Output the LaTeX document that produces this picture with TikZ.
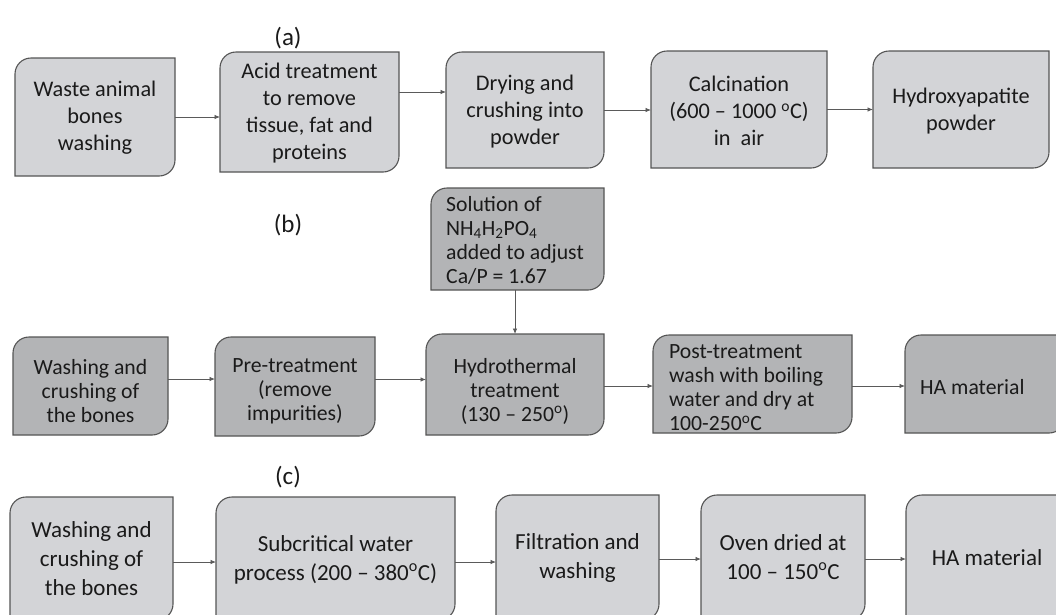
\documentclass[tikz,border=0pt]{standalone}
\usepackage{fontspec}
\setmainfont{Carlito}
\usetikzlibrary{arrows.meta,calc,backgrounds}
\definecolor{lightfill}{HTML}{D3D4D7}
\definecolor{darkfill}{HTML}{B3B4B6}
\definecolor{edgec}{HTML}{555555}
\definecolor{arrowc}{HTML}{5A5A5A}
\definecolor{txtc}{HTML}{1A1A1A}
\tikzset{
  frame/.style={inner sep=0pt, outer sep=0pt, draw=none},
  shapefill/.style={fill=#1, draw=edgec, line width=1.1pt},
  arr/.style={draw=arrowc, line width=0.8pt, -{Latex[length=5.5pt,width=4.5pt]}},
  txta/.style={align=center, text=txtc, font=\fontsize{22.3}{27}\selectfont, inner sep=0pt},
  txtb/.style={align=center, text=txtc, font=\fontsize{21.7}{24}\selectfont, inner sep=0pt},
  txtbl/.style={align=left, text=txtc, font=\fontsize{21.7}{24}\selectfont, inner sep=0pt, anchor=west},
  txtc/.style={align=center, text=txtc, font=\fontsize{23}{29}\selectfont, inner sep=0pt},
  lab/.style={text=txtc, font=\fontsize{25}{28}\selectfont, inner sep=0pt}
}
\newcommand\pbox[6]{%
  \node[frame, minimum width=#4pt, minimum height=#5pt] (#1) at (#2,#3) {};
  \begin{pgfonlayer}{background}
  \path[shapefill=#6] ([yshift=-16pt]#1.north west) arc[start angle=180,end angle=90,radius=16pt]
    -- (#1.north east) -- ([yshift=16pt]#1.south east) arc[start angle=0,end angle=-90,radius=16pt]
    -- (#1.south west) -- cycle;
  \end{pgfonlayer}}
\begin{document}
\begin{tikzpicture}[x=1pt,y=-1pt]
\useasboundingbox (0,0) rectangle (1056,614);
\begin{pgfonlayer}{background}
\fill[white] (0,0) rectangle (1056,614);
\end{pgfonlayer}
\clip (0,0) rectangle (1056,614);
% ---------- (a)
\node[lab] (la) at (288,38) {(a)};
\pbox{a1}{95}{117}{160}{118}{lightfill}
\pbox{a2}{309.5}{112}{179}{120}{lightfill}
\pbox{a3}{525}{110}{158}{116}{lightfill}
\pbox{a4}{739}{109.5}{176}{117}{lightfill}
\pbox{a5}{961}{109.5}{176}{117}{lightfill}
\node[txta] (a1t) at (95,118) {Waste animal\\bones\\washing};
\node[txta] (a2t) at (309.5,113.5) {Acid treatment\\to remove\\tissue, fat and\\proteins};
\node[txta] (a3t) at (525,111.5) {Drying and\\crushing into\\powder};
\node[txta] (a4t) at (739,111) {Calcination\\(600 – 1000 \textsuperscript{o}C)\\in\ \ air};
\node[txta] (a5t) at (961,111) {Hydroxyapatite\\powder};
\draw[arr] (a1.east) -- (a1.east -| a2.west);
\draw[arr] ([yshift=20pt]a2.east) -- ([yshift=20pt]a2.east -| a3.west);
\draw[arr] (a3.east) -- (a3.east -| a4.west);
\draw[arr] (a4.east) -- (a4.east -| a5.west);
% ---------- (b)
\node[lab] (lb) at (288,225) {(b)};
\pbox{sol}{517.5}{239}{173}{102}{darkfill}
\pbox{b1}{90.5}{386}{155}{98}{darkfill}
\pbox{b2}{295}{386.5}{160}{99}{darkfill}
\pbox{b3}{515}{384.5}{178}{101}{darkfill}
\pbox{b4}{752.5}{384}{199}{98}{darkfill}
\pbox{b5}{985}{384}{160}{98}{darkfill}
\node[txtbl] (solt) at (446,240) {Solution of\\NH\textsubscript{4}H\textsubscript{2}PO\textsubscript{4}\\added to adjust\\Ca/P = 1.67};
\node[txtb] (b1t) at (90.5,391) {Washing and\\crushing of\\the bones};
\node[txtb] (b2t) at (295,391) {Pre-treatment\\(remove\\impurities)};
\node[txtb] (b3t) at (515,391) {Hydrothermal\\treatment\\(130 – 250\textsuperscript{o})};
\node[txtbl] (b4t) at (669,388) {Post-treatment\\wash with boiling\\water and dry at\\100-250\textsuperscript{o}C};
\node[txtbl] (b5t) at (920,387.5) {HA material};
\draw[arr] (b3.north |- sol.south) -- (b3.north);
\draw[arr] ([yshift=7pt]b1.east) -- ([yshift=7pt]b1.east -| b2.west);
\draw[arr] ([yshift=7pt]b2.east) -- ([yshift=7pt]b2.east -| b3.west);
\draw[arr] ([yshift=-1.5pt]b3.east) -- ([yshift=-1.5pt]b3.east -| b4.west);
\draw[arr] ([yshift=-2pt]b4.east) -- ([yshift=-2pt]b4.east -| b5.west);
% ---------- (c)
\node[lab] (lc) at (288,477) {(c)};
\pbox{c1}{91.5}{558.5}{163}{123}{lightfill}
\pbox{c2}{335.5}{558.5}{239}{123}{lightfill}
\pbox{c3}{577.5}{557.5}{163}{125}{lightfill}
\pbox{c4}{783}{557.5}{164}{125}{lightfill}
\pbox{c5}{988}{557.5}{164}{125}{lightfill}
\node[txtc] (c1t) at (91.5,559) {Washing and\\crushing of\\the bones};
\node[txtc] (c2t) at (335.5,559.5) {Subcritical water\\process (200 – 380\textsuperscript{o}C)};
\node[txtc] (c3t) at (577.5,557.5) {Filtration and\\washing};
\node[txtc] (c4t) at (783,557.5) {Oven dried at\\100 – 150\textsuperscript{o}C};
\node[txtc] (c5t) at (987,558) {HA material};
\draw[arr] ([yshift=-3.5pt]c1.east) -- ([yshift=-3.5pt]c1.east -| c2.west);
\draw[arr] ([yshift=-3.5pt]c2.east) -- ([yshift=-3.5pt]c2.east -| c3.west);
\draw[arr] ([yshift=-1.5pt]c3.east) -- ([yshift=-1.5pt]c3.east -| c4.west);
\draw[arr] ([yshift=-1.5pt]c4.east) -- ([yshift=-1.5pt]c4.east -| c5.west);
\end{tikzpicture}
\end{document}
